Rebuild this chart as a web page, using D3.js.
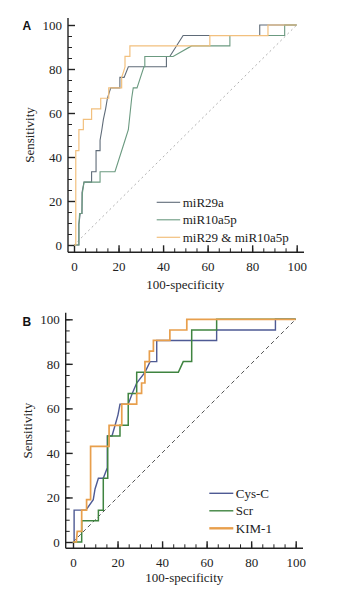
<!DOCTYPE html>
<html><head><meta charset="utf-8">
<script src="https://cdn.jsdelivr.net/npm/d3@7"></script>
<style>body{margin:0;background:#fff}svg{display:block}</style>
</head><body>
<svg id="c" width="355" height="590"></svg>
<script>
// ---- Data (X = 100-specificity, Y = sensitivity) ----
const ticks = [0, 20, 40, 60, 80, 100];
const seriesA = ["miR29a", "miR10a5p", "miR29 & miR10a5p"];
const seriesB = ["Cys-C", "Scr", "KIM-1"];

const miR29aX = [0,2.2,2.2,2.8,3.6,3.6,4.5,7.9,7.9,9.9,9.9,11.7,11.7,12.5,13.2,14.2,15.0,16.5,20.6,20.6,22.5,24.4,41.5,41.5,43,49,83.4,83.4,100];
const miR29aY = [0,0,9.5,14.3,14.3,23.8,28.6,28.6,33.3,33.3,42.9,42.9,47.6,52.4,57.1,61.9,66.7,71.4,71.4,76.2,76.2,81,81,85.7,85.7,95.2,95.2,100,100];

const miR10X = [0,2.2,2.2,2.5,3.5,3.8,4.5,11.7,11.7,17.6,18.4,22.9,24.4,25.9,26.6,28.3,31.4,31.8,31.8,44.5,52.8,70,70,94.6,94.6,100];
const miR10Y = [0,0,9.5,14.3,14.3,23.8,28.6,28.6,33.3,33.3,33.3,47.6,52.4,66.7,71.4,71.4,81,81,85.7,85.7,90.5,90.5,95.2,95.2,100,100];

const comboX = [0,0.8,0.8,2.2,2.2,4.2,4.2,7.9,7.9,12,12,15.6,15.6,21.4,21.4,22.2,22.9,22.9,25.1,25.1,61,61,87.1,87.1,100];
const comboY = [0,0,42.9,42.9,52.4,52.4,57.1,57.1,61.9,61.9,66.7,66.7,71.4,71.4,76.2,78.6,81,85.7,85.7,90.5,90.5,95.2,95.2,100,100];

const cysX = [0,0.5,0.5,5.8,9.1,9.9,11.4,13.6,15.4,15.4,17.5,18.9,20.2,21.1,24.8,26.6,28.6,32.3,34.6,37.6,37.6,64.5,64.5,90.9,90.9,100];
const cysY = [0,0,14.3,14.3,19,23.8,28.6,28.6,33.3,47.6,47.6,52.4,57.1,61.9,61.9,66.7,71.4,76.2,81,81,90.5,90.5,95.2,95.2,100,100];

const scrX = [0,3.9,3.9,11.4,11.4,13.6,13.6,15.6,15.6,21.1,21.1,24.8,24.8,28.6,28.6,47.3,49.5,53.3,53.3,64.5,64.5,100];
const scrY = [0,0,9.5,9.5,14.3,14.3,28.6,28.6,47.6,47.6,52.4,52.4,66.7,66.7,76.2,76.2,81,81,95.2,95.2,100,100];

const kimX = [0,1.5,1.9,3.9,3.9,6.1,6.1,7.9,7.9,16.2,16.2,21.9,21.9,28.6,28.6,30.8,30.8,32.3,32.3,34.3,34.3,36.1,36.1,43.5,43.5,51.1,51.1,100];
const kimY = [0,0,4.8,4.8,14.3,14.3,19,19,42.9,42.9,52.4,52.4,61.9,61.9,66.7,66.7,71.4,71.4,81,81,85.7,85.7,90.5,90.5,95.2,95.2,100,100];

// ---- Drawing ----
const svg = d3.select("#c");
const serif = "'Liberation Serif','Times New Roman',serif";

function zip(xs, ys){ return xs.map((x,i)=>[x, ys[i]]); }

function panel(cfg){
  const x = d3.scaleLinear().domain([0,100]).range(cfg.xr);
  const y = d3.scaleLinear().domain([0,100]).range(cfg.yr);
  const g = svg.append("g");
  const minor = d3.range(0, 101, 5);

  // axis lines (offset)
  g.append("line").attr("x1",cfg.ax).attr("x2",cfg.ax).attr("y1",cfg.yTop).attr("y2",cfg.ay)
    .attr("stroke","#222").attr("stroke-width",1.4);
  g.append("line").attr("x1",cfg.ax).attr("x2",cfg.xRight).attr("y1",cfg.ay).attr("y2",cfg.ay)
    .attr("stroke","#222").attr("stroke-width",1.4);

  // minor ticks
  g.append("g").attr("transform",`translate(${cfg.ax},0)`)
    .call(d3.axisLeft(y).tickValues(minor).tickSize(-4).tickFormat(""))
    .call(s=>s.select(".domain").remove())
    .call(s=>s.selectAll("line").attr("stroke","#222").attr("stroke-width",1));
  g.append("g").attr("transform",`translate(0,${cfg.ay})`)
    .call(d3.axisBottom(x).tickValues(minor).tickSize(-4).tickFormat(""))
    .call(s=>s.select(".domain").remove())
    .call(s=>s.selectAll("line").attr("stroke","#222").attr("stroke-width",1));

  // major ticks + labels
  g.append("g").attr("transform",`translate(${cfg.ax},0)`)
    .call(d3.axisLeft(y).tickValues(ticks).tickSize(-7).tickPadding(6))
    .call(s=>s.select(".domain").remove())
    .call(s=>s.selectAll("line").attr("stroke","#222").attr("stroke-width",1.4))
    .call(s=>s.selectAll("text").attr("font-family",serif).attr("font-size",13).attr("fill","#222"));
  g.append("g").attr("transform",`translate(0,${cfg.ay})`)
    .call(d3.axisBottom(x).tickValues(ticks).tickSize(-7).tickPadding(9))
    .call(s=>s.select(".domain").remove())
    .call(s=>s.selectAll("line").attr("stroke","#222").attr("stroke-width",1.4))
    .call(s=>s.selectAll("text").attr("font-family",serif).attr("font-size",13).attr("fill","#222"));

  // titles
  g.append("text").attr("x",(cfg.xr[0]+cfg.xr[1])/2).attr("y",cfg.xTitleY)
    .attr("text-anchor","middle").attr("font-family",serif).attr("font-size",13).attr("fill","#222")
    .text("100-specificity");
  g.append("text").attr("transform",`translate(${cfg.yTitleX},${(cfg.yr[0]+cfg.yr[1])/2}) rotate(-90)`)
    .attr("text-anchor","middle").attr("font-family",serif).attr("font-size",13).attr("fill","#222")
    .text("Sensitivity");
  g.append("text").attr("x",22.5).attr("y",cfg.letterY)
    .attr("font-family","'Liberation Sans',Arial,sans-serif").attr("font-weight","bold")
    .attr("font-size",12).attr("fill","#111").text(cfg.letter);

  // diagonal reference
  g.append("line").attr("x1",x(0)).attr("y1",y(0)).attr("x2",x(100)).attr("y2",y(100))
    .attr("stroke",cfg.diagColor).attr("stroke-width",1).attr("stroke-dasharray",cfg.diagDash);

  const line = d3.line().x(d=>x(d[0])).y(d=>y(d[1]));
  cfg.series.forEach(s=>{
    g.append("path").attr("d",line(zip(s.xs,s.ys))).attr("fill","none")
      .attr("stroke",s.color).attr("stroke-width",s.w);
  });

  // legend
  cfg.names.forEach((n,i)=>{
    const s = cfg.series[i];
    const ly = cfg.legY + i*cfg.legStep;
    g.append("line").attr("x1",cfg.legX).attr("x2",cfg.legX+cfg.legLen).attr("y1",ly).attr("y2",ly)
      .attr("stroke",s.color).attr("stroke-width",s.lw);
    g.append("text").attr("x",cfg.legX+cfg.legLen+2.5).attr("y",ly+4.5)
      .attr("font-family",serif).attr("font-size",13).attr("fill","#222").text(n);
  });
}

panel({
  letter:"A", letterY:29.5,
  xr:[74,296.7], yr:[245,25], ax:68, ay:252.3, yTop:18, xRight:304,
  xTitleY:289, yTitleX:34,
  diagColor:"#b0b0b0", diagDash:"2,3",
  names: seriesA,
  series:[
    {xs:miR29aX, ys:miR29aY, color:"#5f6b78", w:1.1, lw:1.1},
    {xs:miR10X, ys:miR10Y, color:"#6b9a80", w:1.1, lw:1.1},
    {xs:comboX, ys:comboY, color:"#f2c07e", w:1.2, lw:1.2}
  ],
  legX:156.7, legLen:23.5, legY:202.3, legStep:17.5
});

panel({
  letter:"B", letterY:326,
  xr:[73,295.7], yr:[542,319.3], ax:65.7, ay:548.3, yTop:312.7, xRight:303,
  xTitleY:582, yTitleX:32,
  diagColor:"#555", diagDash:"4,3",
  names: seriesB,
  series:[
    {xs:cysX, ys:cysY, color:"#4e5a94", w:1.4, lw:1.4},
    {xs:scrX, ys:scrY, color:"#3f8440", w:1.5, lw:1.4},
    {xs:kimX, ys:kimY, color:"#e89f4c", w:1.7, lw:2.4}
  ],
  legX:209.3, legLen:24, legY:493.3, legStep:17.5
});
</script>
</body></html>
